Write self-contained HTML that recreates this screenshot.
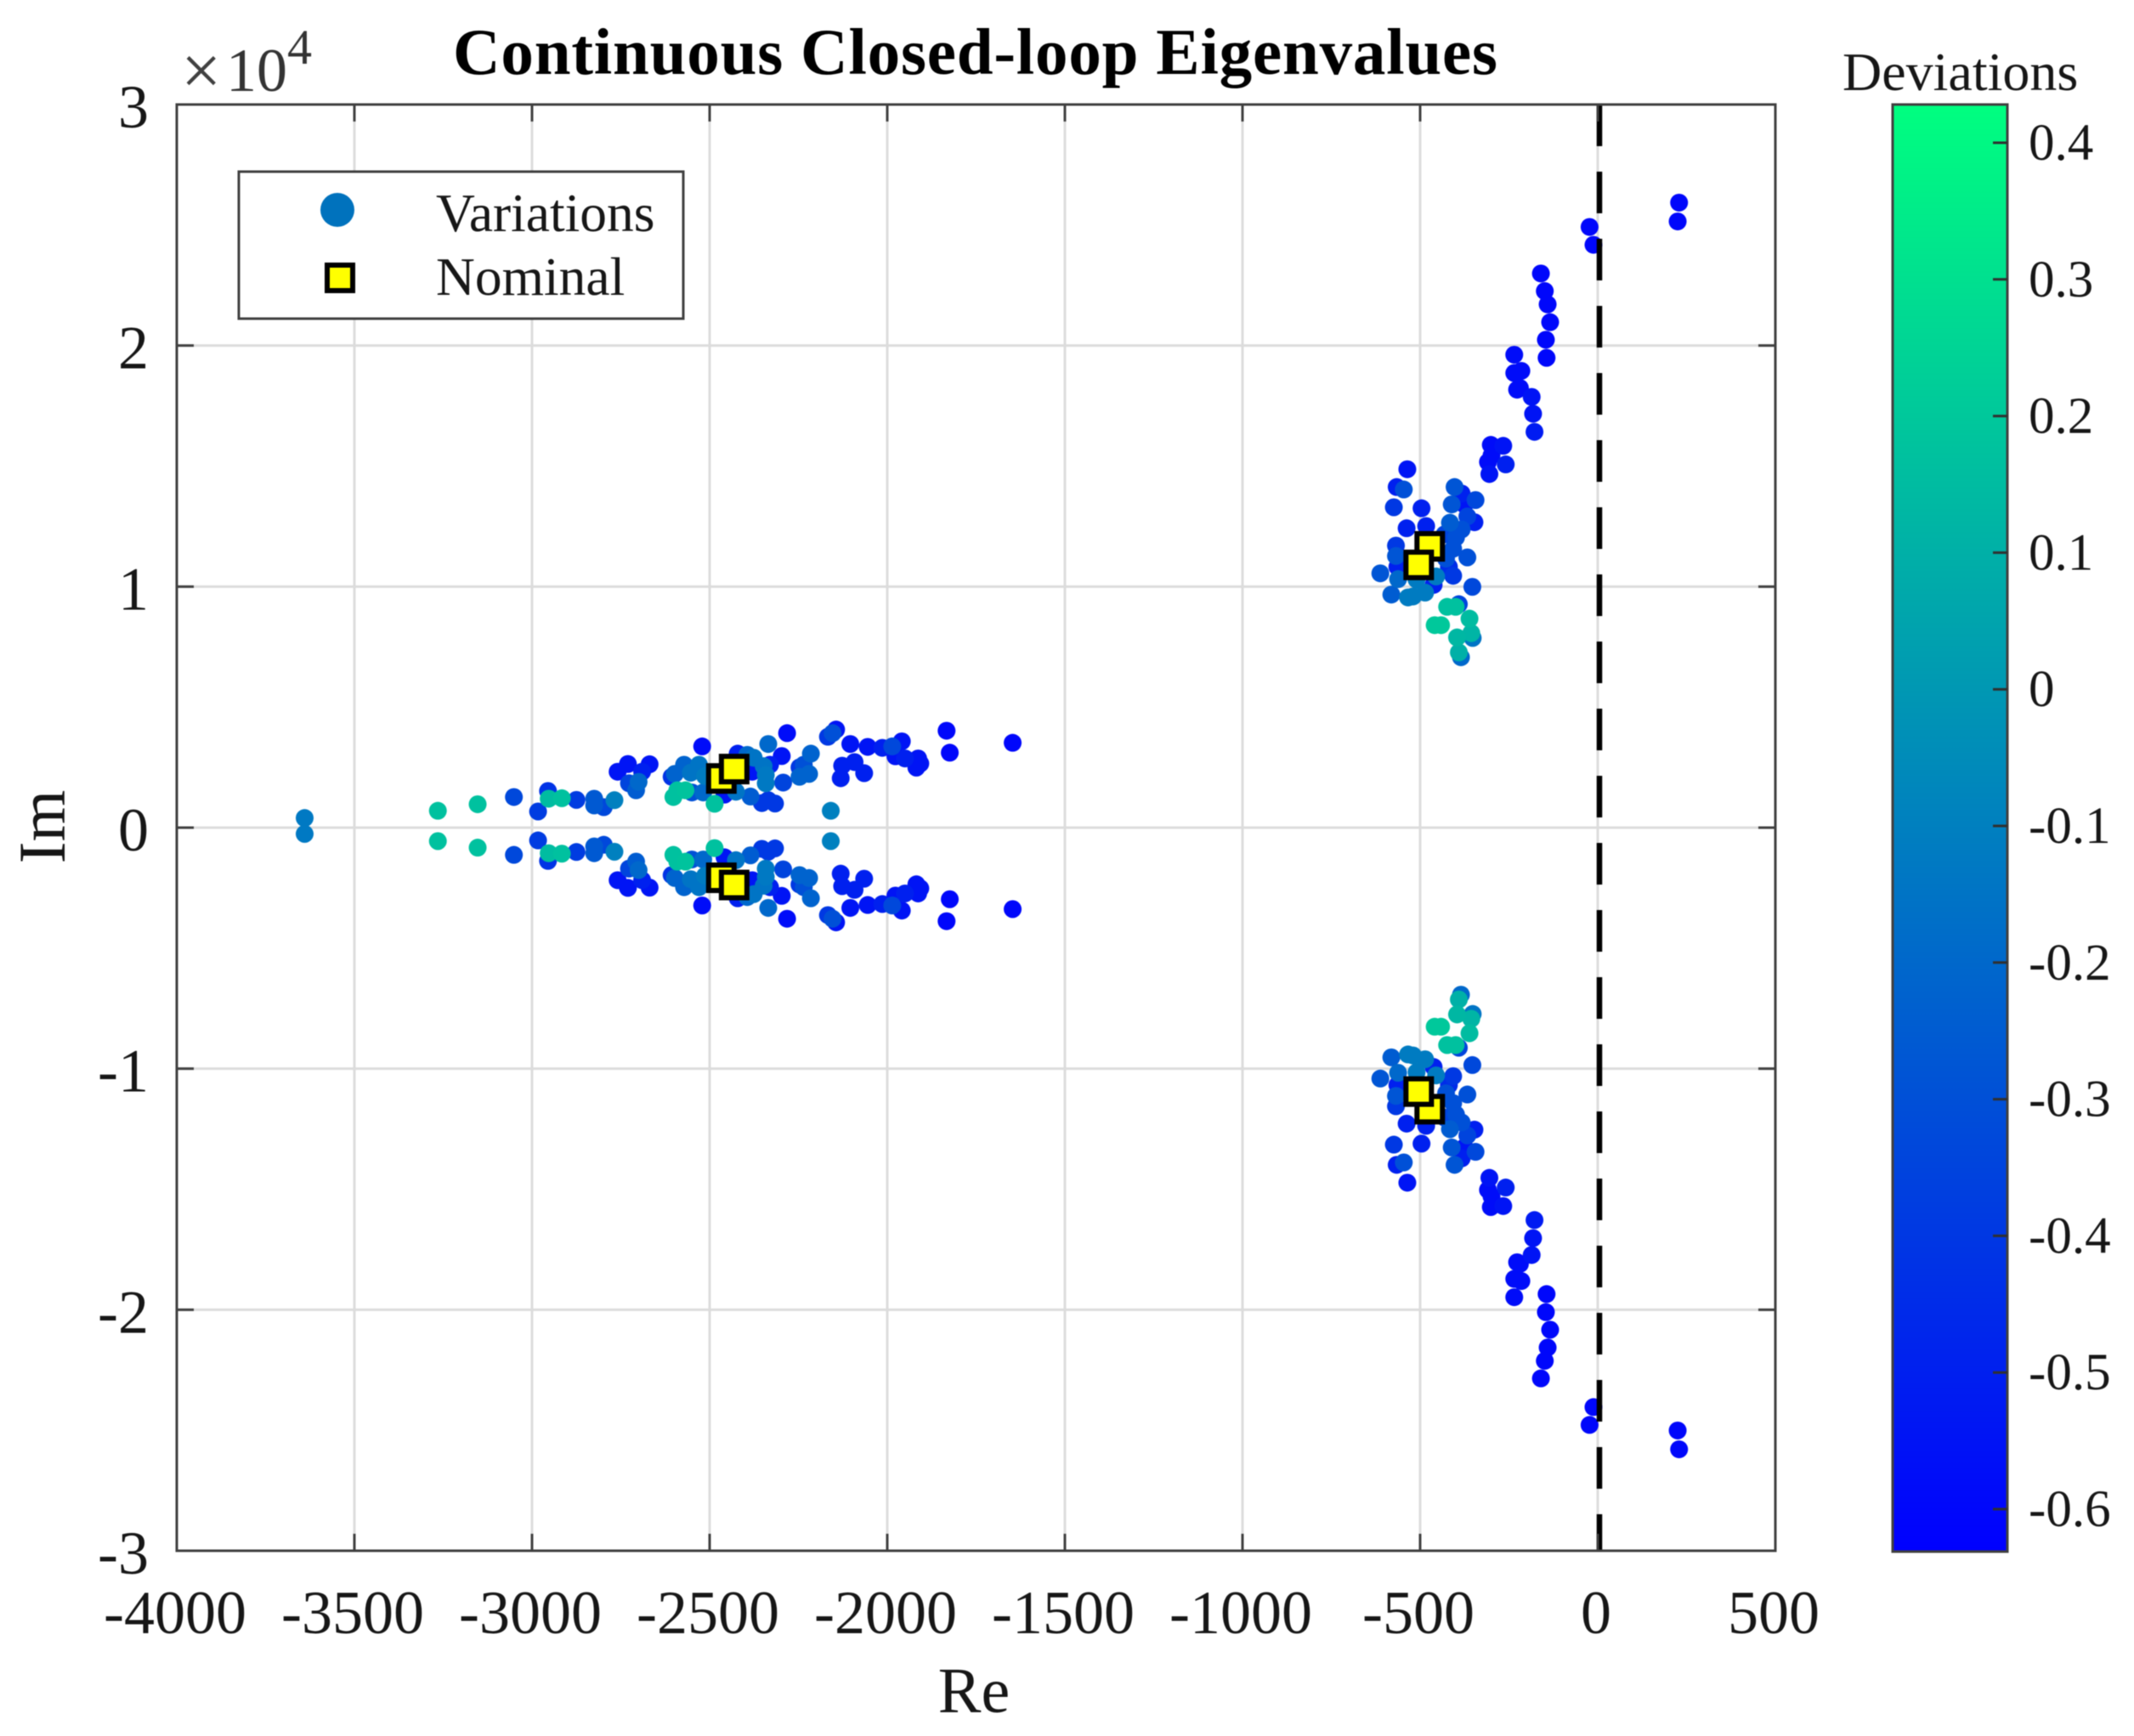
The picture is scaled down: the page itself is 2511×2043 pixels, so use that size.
<!DOCTYPE html>
<html lang="en">
<head>
<meta charset="utf-8">
<title>Continuous Closed-loop Eigenvalues</title>
<style>
html,body{margin:0;padding:0;background:#fff;}
#chart{display:block;width:2511px;height:2043px;font-family:"Liberation Serif",serif;filter:blur(0.6px);}
text{fill:#161616;}
</style>
</head>
<body>
<svg id="chart" xmlns="http://www.w3.org/2000/svg" width="2511" height="2043" viewBox="0 0 2511 2043">
  <defs>
    <linearGradient id="winter-gradient" x1="0" y1="0" x2="0" y2="1"></linearGradient>
  </defs>
  <rect x="0" y="0" width="2511" height="2043" fill="#ffffff"></rect>
  <g id="grid"></g>
  <g id="marks"></g>
  <g id="nominal"></g>
  <g id="axes"></g>
  <text x="533" y="87" font-size="77" font-weight="bold" textLength="1229" lengthAdjust="spacing" style="fill:#000">Continuous Closed-loop Eigenvalues</text>
  <text x="1146" y="2015" font-size="76" text-anchor="middle">Re</text>
  <text transform="translate(76 973) rotate(-90)" font-size="78" text-anchor="middle">Im</text>
  <g>
    <text x="213" y="111" font-size="84" style="fill:#404040">×</text>
    <text x="266" y="107" font-size="72" style="fill:#333">10</text>
    <text x="338" y="75" font-size="58" style="fill:#333">4</text>
  </g>
  <g>
    <rect x="281" y="202" width="523" height="173" fill="#ffffff" stroke="#404040" stroke-width="3"></rect>
    <circle cx="397" cy="247" r="20" fill="#0072bd"></circle>
    <text x="513" y="272" font-size="63.5">Variations</text>
    <rect x="385" y="312" width="30" height="30" fill="#ffff00" stroke="#000" stroke-width="6"></rect>
    <text x="513" y="347" font-size="63.5">Nominal</text>
  </g>
  <rect id="colorbar-fill" x="2227" y="123" width="135" height="1703" fill="url(#winter-gradient)" stroke="#404040" stroke-width="3"></rect>
  <g id="colorbar-ticks"></g>
  <text x="2168" y="106" font-size="64">Deviations</text>
</svg>
<script>
// Axis tick values and labels
const xTicks = [-4000, -3500, -3000, -2500, -2000, -1500, -1000, -500, 0, 500];
const yTicks = [-3, -2, -1, 0, 1, 2, 3];
const colorTicks = [-0.6, -0.5, -0.4, -0.3, -0.2, -0.1, 0, 0.1, 0.2, 0.3, 0.4];
const colorLimits = [-0.631, 0.428];

// Left cluster: upper half of each conjugate pair (Re, Im in 1e4, deviation)
const leftRe = [-3640,-3265,-3153,-3051,-2983,-2955,-2953,-2916,-2875,-2825,-2825,-2798,-2768,-2759,-2730,-2669,-2690,-2727,-2700,-2707,-2607,-2598,-2572,-2553,-2530,-2521,-2602,-2591,-2568,-2486,-2550,-2518,-2458,-2426,-2513,-2421,-2394,-2376,-2380,-2348,-2330,-2335,-2282,-2297,-2342,-2342,-2293,-2385,-2353,-2335,-2316,-2215,-2235,-2247,-2247,-2220,-2159,-2167,-2154,-2144,-2104,-2127,-2131,-2092,-2065,-2055,-2014,-1986,-1959,-1977,-1950,-1918,-1907,-1913,-1833,-1824,-1647];
const leftIm = [0.033,0.063,0.09,0.12,0.06,0.145,0.113,0.115,0.108,0.113,0.085,0.078,0.107,0.225,0.257,0.256,0.225,0.177,0.183,0.148,0.204,0.216,0.254,0.221,0.254,0.33,0.12,0.148,0.148,0.092,0.139,0.139,0.13,0.142,0.207,0.30,0.295,0.283,0.225,0.248,0.254,0.34,0.385,0.29,0.177,0.211,0.18,0.122,0.095,0.107,0.093,0.30,0.254,0.243,0.204,0.216,0.063,0.37,0.385,0.40,0.34,0.25,0.198,0.265,0.219,0.328,0.324,0.33,0.351,0.289,0.28,0.242,0.259,0.28,0.395,0.304,0.345];
const leftDev = [-0.13,0.17,0.17,-0.33,-0.38,-0.42,0.15,0.17,-0.38,-0.26,-0.26,-0.33,-0.1,-0.55,-0.55,-0.55,-0.5,-0.35,-0.2,-0.25,-0.42,-0.22,-0.22,-0.15,-0.15,-0.58,0.17,0.17,0.18,0.17,-0.3,-0.2,-0.55,-0.15,-0.12,-0.5,-0.2,-0.15,-0.55,-0.15,-0.5,-0.2,-0.58,-0.55,-0.13,-0.13,-0.35,-0.25,-0.4,-0.4,-0.4,-0.22,-0.3,-0.4,-0.22,-0.22,-0.1,-0.4,-0.3,-0.55,-0.55,-0.5,-0.5,-0.5,-0.5,-0.55,-0.5,-0.33,-0.55,-0.55,-0.5,-0.55,-0.55,-0.55,-0.6,-0.6,-0.6];

// Right cluster: upper half of each conjugate pair
const rightRe = [229,225,-23,-12,-160,-149,-141,-134,-146,-144,-235,-215,-235,-219,-227,-186,-182,-178,-301,-266,-299,-309,-259,-305,-536,-566,-546,-574,-496,-483,-538,-403,-383,-411,-344,-375,-367,-347,-416,-383,-399,-431,-407,-427,-367,-419,-407,-353,-568,-568,-612,-564,-581,-562,-534,-520,-486,-510,-455,-462,-391,-424,-400,-459,-441,-361,-356,-352,-396,-391,-385];
const rightIm = [2.586,2.508,2.485,2.411,2.292,2.219,2.164,2.09,2.017,1.942,1.955,1.888,1.879,1.817,1.81,1.78,1.71,1.635,1.581,1.577,1.537,1.51,1.50,1.46,1.48,1.406,1.396,1.322,1.318,1.244,1.235,1.406,1.379,1.334,1.352,1.333,1.284,1.26,1.258,1.23,1.197,1.21,1.15,1.109,1.114,1.075,1.038,0.992,1.163,1.12,1.048,1.075,0.96,1.024,0.948,0.952,0.968,1.022,1.035,1.00,0.92,0.909,0.909,0.833,0.833,0.86,0.80,0.78,0.782,0.72,0.70];
const rightDev = [-0.6,-0.6,-0.6,-0.6,-0.6,-0.6,-0.6,-0.6,-0.6,-0.6,-0.58,-0.58,-0.58,-0.58,-0.58,-0.55,-0.55,-0.52,-0.58,-0.55,-0.58,-0.58,-0.5,-0.55,-0.55,-0.5,-0.3,-0.4,-0.5,-0.5,-0.5,-0.28,-0.5,-0.28,-0.33,-0.55,-0.35,-0.5,-0.25,-0.3,-0.3,-0.35,-0.3,-0.3,-0.3,-0.45,-0.4,-0.33,-0.4,-0.28,-0.28,-0.5,-0.25,-0.2,-0.12,-0.12,-0.12,-0.12,-0.12,-0.5,-0.35,0.17,0.17,0.2,0.2,0.15,0.12,-0.15,0.13,0.1,-0.2];

// Nominal eigenvalues (drawn back to front)
const nominalRe = [-2467,-2431,-2467,-2431,-473,-504,-473,-504];
const nominalIm = [0.204,0.243,-0.208,-0.238,1.167,1.09,-1.168,-1.095];

// The sampled conjugate pairs sit slightly above the drawn zero line
const conjugateCentre = 0.007;

const SVG_NS = 'http://www.w3.org/2000/svg';
const plot = {left: 208, right: 2089, top: 123, bottom: 1825};
const xMin = -4000, xMax = 500, yMin = -3, yMax = 3;

function xScale(v) {
  return plot.left + (v - xMin) / (xMax - xMin) * (plot.right - plot.left);
}
function yScale(v) {
  return plot.bottom - (v - yMin) / (yMax - yMin) * (plot.bottom - plot.top);
}
function colorScale(v) {
  return 168 + (0.4 - v) * 1608;
}
function winter(v) {
  const t = Math.max(0, Math.min(1, (v - colorLimits[0]) / (colorLimits[1] - colorLimits[0])));
  return 'rgb(0,' + Math.round(255 * t) + ',' + Math.round(255 * (1 - 0.5 * t)) + ')';
}
function make(tag, attrs, parent) {
  const el = document.createElementNS(SVG_NS, tag);
  Object.keys(attrs).forEach(function (k) { el.setAttribute(k, attrs[k]); });
  parent.appendChild(el);
  return el;
}

const grid = document.getElementById('grid');
const axes = document.getElementById('axes');
const marks = document.getElementById('marks');
const nominal = document.getElementById('nominal');
const cbTicks = document.getElementById('colorbar-ticks');
const gradient = document.getElementById('winter-gradient');

// Colorbar gradient
[0, 1].forEach(function (offset) {
  const stop = make('stop', {
    offset: offset,
    'stop-color': winter(colorLimits[1] - offset * (colorLimits[1] - colorLimits[0]))
  }, gradient);
  
  
});

// Grid lines
xTicks.slice(1, -1).forEach(function (v) {
  const line = make('line', {x1: xScale(v), x2: xScale(v), y1: plot.top, y2: plot.bottom, stroke: '#dcdcdc', 'stroke-width': 3}, grid);
  
  
});
yTicks.slice(1, -1).forEach(function (v) {
  const line = make('line', {x1: plot.left, x2: plot.right, y1: yScale(v), y2: yScale(v), stroke: '#dcdcdc', 'stroke-width': 3}, grid);
  
  
});

// Scatter points: each entry gives a conjugate pair
function collect(reList, imList, devList) {
  return reList.map(function (re, i) {
    return {re: re, im: imList[i], dev: devList[i]};
  });
}
const allPoints = collect(leftRe, leftIm, leftDev).concat(collect(rightRe, rightIm, rightDev));
allPoints.sort(function (a, b) { return a.dev - b.dev; });
allPoints.forEach(function (p) {
  [1, -1].forEach(function (sign) {
    const dot = make('circle', {
      cx: xScale(p.re),
      cy: yScale(sign * p.im + conjugateCentre),
      r: 10.5,
      fill: winter(p.dev)
    }, marks);
    
    
  });
});

// Nominal squares
nominalRe.forEach(function (re, i) {
  const size = 30;
  const square = make('rect', {
    x: xScale(re) - size / 2,
    y: yScale(nominalIm[i]) - size / 2,
    width: size,
    height: size,
    fill: '#ffff00',
    stroke: '#000000',
    'stroke-width': 6
  }, nominal);
  
  
});

// Stability boundary
const boundary = make('line', {
  x1: xScale(0) + 2, x2: xScale(0) + 2, y1: plot.top, y2: plot.bottom,
  stroke: '#000000', 'stroke-width': 6.5, 'stroke-dasharray': '49 30'
}, axes);



// Frame
const frame = make('rect', {
  x: plot.left, y: plot.top,
  width: plot.right - plot.left, height: plot.bottom - plot.top,
  fill: 'none', stroke: '#404040', 'stroke-width': 3
}, axes);



// X ticks and labels
xTicks.forEach(function (v) {
  const px = xScale(v);
  const bottomTick = make('line', {x1: px, x2: px, y1: plot.bottom, y2: plot.bottom - 20, stroke: '#404040', 'stroke-width': 3}, axes);
  
  
  const topTick = make('line', {x1: px, x2: px, y1: plot.top, y2: plot.top + 20, stroke: '#404040', 'stroke-width': 3}, axes);
  
  
  const label = make('text', {x: px - 2, y: 1922, 'font-size': 72, 'text-anchor': 'middle'}, axes);
  
  
  label.textContent = String(v);
});

// Y ticks and labels
yTicks.forEach(function (v) {
  const py = yScale(v);
  const leftTick = make('line', {x1: plot.left, x2: plot.left + 20, y1: py, y2: py, stroke: '#404040', 'stroke-width': 3}, axes);
  
  
  const rightTick = make('line', {x1: plot.right, x2: plot.right - 20, y1: py, y2: py, stroke: '#404040', 'stroke-width': 3}, axes);
  
  
  const label = make('text', {x: 175, y: py + 27, 'font-size': 72, 'text-anchor': 'end'}, axes);
  
  
  label.textContent = String(v);
});

// Colorbar ticks and labels
colorTicks.forEach(function (v) {
  const py = colorScale(v);
  const tick = make('line', {x1: 2362, x2: 2345, y1: py, y2: py, stroke: '#303030', 'stroke-width': 3}, cbTicks);
  
  
  const label = make('text', {x: 2387, y: py + 20, 'font-size': 61}, cbTicks);
  
  
  label.textContent = String(v);
});
</script>
</body>
</html>
